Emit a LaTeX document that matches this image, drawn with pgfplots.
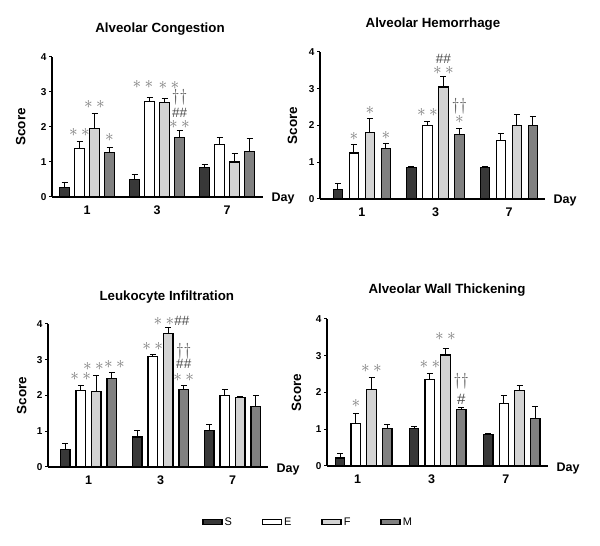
\documentclass[border=0pt]{standalone}
\usepackage{fontspec}
\setmainfont{Liberation Sans}
\usepackage{pgfplots}
\usepackage{pgfplotstable}
\pgfplotsset{compat=1.18}

\definecolor{cS}{HTML}{383838}
\definecolor{cE}{HTML}{FFFFFF}
\definecolor{cF}{HTML}{D3D3D3}
\definecolor{cM}{HTML}{808080}
\definecolor{astc}{HTML}{7A7A7A}
\definecolor{dgc}{HTML}{606060}
\definecolor{hhc}{HTML}{484848}

% day index, mean and upper error for the four groups
\pgfplotstableread{
x S Se E Ee F Fe M Me
0 0.26 0.14 1.38 0.20 1.95 0.43 1.27 0.14
1 0.51 0.12 2.73 0.10 2.69 0.11 1.71 0.19
2 0.84 0.10 1.50 0.21 1.00 0.25 1.31 0.36
}\congestion
\pgfplotstableread{
x S Se E Ee F Fe M Me
0 0.26 0.16 1.25 0.23 1.80 0.40 1.37 0.14
1 0.85 0.03 2.01 0.10 3.05 0.27 1.76 0.17
2 0.85 0.03 1.59 0.20 2.01 0.30 1.99 0.26
}\hemorrhage
\pgfplotstableread{
x S Se E Ee F Fe M Me
0 0.50 0.17 2.13 0.16 2.12 0.45 2.47 0.16
1 0.84 0.17 3.08 0.06 3.73 0.17 2.17 0.12
2 1.02 0.18 2.00 0.18 1.94 0.04 1.69 0.31
}\leukocyte
\pgfplotstableread{
x S Se E Ee F Fe M Me
0 0.22 0.12 1.16 0.27 2.08 0.33 1.01 0.11
1 1.01 0.07 2.36 0.16 3.02 0.18 1.54 0.04
2 0.85 0.04 1.71 0.21 2.06 0.13 1.29 0.34
}\wall

\newcommand{\sA}{\textcolor{astc}{\fontsize{16}{16}\selectfont$\ast$}}
\newcommand{\sAA}{\textcolor{astc}{\fontsize{16}{16}\selectfont${\ast}\mkern3.5mu{\ast}$}}
\newcommand{\dg}{\textcolor{dgc}{\fontsize{16.5}{16}\selectfont$\dagger\dagger$}}
\newcommand{\hh}{\textcolor{hhc}{\fontsize{13.5}{13}\selectfont$\#\#$}}
\newcommand{\hsingle}{\textcolor{hhc}{\fontsize{15}{15}\selectfont$\#$}}
% x, y (error top), x offset, y offset above, text
\newcommand{\ann}[5]{\node[anchor=center,inner sep=0pt,xshift=#3pt,yshift=#4pt]
  at (axis cs:#1,#2) {#5};}

\newcommand{\bars}[1]{%
  \addplot[fill=cS] table[x=x,y=S,y error=Se]{#1};
  \addplot[fill=cE] table[x=x,y=E,y error=Ee]{#1};
  \addplot[fill=cF] table[x=x,y=F,y error=Fe]{#1};
  \addplot[fill=cM] table[x=x,y=M,y error=Me]{#1};
  \node[anchor=west,font=\bfseries\fontsize{12.5}{12}\selectfont,xshift=5pt,yshift=-2pt]
    at (rel axis cs:1,0) {Day};}

\pgfplotsset{
  panel/.style={
    scale only axis, ybar, bar width=9.5pt,
    ymin=0, ymax=4, ytick={0,1,2,3,4},
    xtick={0,1,2}, xticklabels={1,3,7},
    axis lines*=left, axis line style={-,line width=1.4pt},
    x tick style={draw=none},
    y tick style={line width=1pt,black},
    tick align=outside, major tick length=3pt,
    /pgf/number format/assume math mode=true,
    yticklabel style={font=\bfseries\fontsize{10}{10}\selectfont,xshift=1pt},
    xticklabel style={font=\bfseries\fontsize{12.5}{12}\selectfont,yshift=-2pt},
    ylabel={Score},
    ylabel style={font=\bfseries\fontsize{13.5}{13}\selectfont},
    title style={font=\bfseries\fontsize{13.3}{13}\selectfont,anchor=center},
    clip=false,
    every axis plot/.append style={draw=black,line width=1.2pt,
      error bars/y dir=plus, error bars/y explicit,
      error bars/error bar style={line width=1pt,black},
      error bars/error mark options={rotate=90,mark size=3pt,line width=1pt,black}},
  },
}

\begin{document}
\begin{tikzpicture}
\path[use as bounding box] (0,0) rectangle (600pt,546pt);

% Alveolar Congestion
\begin{axis}[panel, at={(52pt,349pt)}, anchor=south west,
  width=211pt, height=140pt, xmin=-0.5, xmax=2.514, ybar=5.5pt,
  title={Alveolar Congestion},
  title style={at={(axis description cs:0.512,1)},yshift=22pt},
  ylabel style={at={(axis description cs:-0.109,0.5)}}]
  \bars{\congestion}
  \ann{0}{1.58}{-7.5}{9}{\sAA}
  \ann{0}{2.38}{7.5}{9}{\sAA}
  \ann{0}{1.41}{22.5}{10}{\sA}
  \ann{1}{2.83}{-14}{13}{\sAA}
  \ann{1}{2.80}{12}{14}{\sAA}
  \ann{1}{1.90}{22.5}{6.5}{\sAA}
  \ann{1}{1.90}{22.5}{18}{\hh}
  \ann{1}{1.90}{22.5}{33}{\dg}
\end{axis}

% Alveolar Hemorrhage
\begin{axis}[panel, at={(320pt,347pt)}, anchor=south west,
  width=225pt, height=147pt, xmin=-0.571, xmax=2.49, ybar=6.5pt,
  title={Alveolar Hemorrhage},
  title style={at={(axis description cs:0.502,1)},yshift=22pt},
  ylabel style={at={(axis description cs:-0.085,0.5)}}]
  \bars{\hemorrhage}
  \ann{0}{1.48}{-8}{8}{\sA}
  \ann{0}{2.20}{8}{8}{\sA}
  \ann{0}{1.51}{24}{8}{\sA}
  \ann{1}{2.11}{-8}{8.5}{\sAA}
  \ann{1}{3.32}{8}{7}{\sAA}
  \ann{1}{3.32}{8}{18.5}{\hh}
  \ann{1}{1.93}{24}{8.5}{\sA}
  \ann{1}{1.93}{24}{21.5}{\dg}
\end{axis}

% Leukocyte Infiltration
\begin{axis}[panel, at={(48pt,79pt)}, anchor=south west,
  width=220pt, height=143pt, xmin=-0.5625, xmax=2.493, ybar=6pt,
  title={Leukocyte Infiltration},
  title style={at={(axis description cs:0.54,1)},yshift=21pt},
  ylabel style={at={(axis description cs:-0.082,0.5)}},
  legend columns=4,
  legend style={draw=none,fill=none,inner sep=0pt,
    at={(axis description cs:0.70,-0.385)},anchor=west,
    font=\fontsize{11}{11}\selectfont,
    /tikz/every even column/.append style={column sep=28pt}},
  legend image code/.code={\draw[#1,line width=1.3pt] (0pt,-2.5pt) rectangle (19pt,2.5pt);}]
  \bars{\leukocyte}
  \ann{0}{2.29}{-7.75}{8.5}{\sAA}
  \ann{0}{2.57}{5}{8.5}{\sAA}
  \ann{0}{2.63}{26}{8.5}{\sAA}
  \ann{1}{3.14}{-7.75}{8.5}{\sAA}
  \ann{1}{3.90}{11}{7}{\sAA\hh}
  \ann{1}{2.29}{23.25}{8}{\sAA}
  \ann{1}{2.29}{23.25}{21}{\hh}
  \ann{1}{2.29}{23.25}{34}{\dg}
  \legend{S,E,F,M}
\end{axis}

% Alveolar Wall Thickening
\begin{axis}[panel, at={(327pt,80pt)}, anchor=south west,
  width=221pt, height=147pt, xmin=-0.495, xmax=2.49, ybar=6.2pt,
  xticklabel style={xshift=-6pt},
  title={Alveolar Wall Thickening},
  title style={at={(axis description cs:0.543,1)},yshift=23pt},
  ylabel style={at={(axis description cs:-0.10,0.5)}}]
  \bars{\wall}
  \ann{0}{1.43}{-7.8}{10}{\sA}
  \ann{0}{2.41}{7.8}{9}{\sAA}
  \ann{1}{2.52}{-7.8}{9}{\sAA}
  \ann{1}{3.20}{7.8}{12}{\sAA}
  \ann{1}{1.58}{23.5}{9}{\hsingle}
  \ann{1}{1.58}{23.5}{27}{\dg}
\end{axis}
\end{tikzpicture}
\end{document}
